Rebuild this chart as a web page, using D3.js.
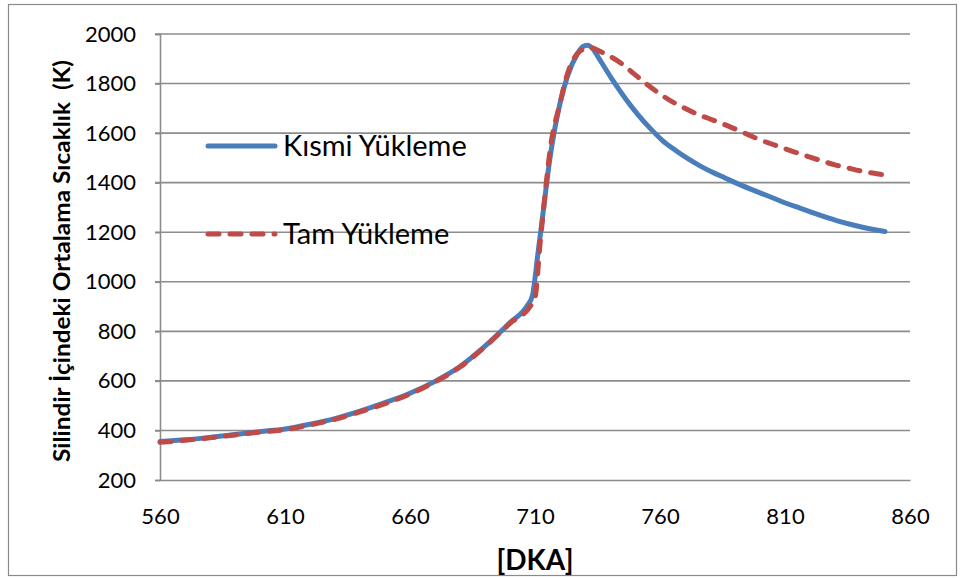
<!DOCTYPE html>
<html>
<head>
<meta charset="utf-8">
<script src="https://cdn.jsdelivr.net/npm/d3@7"></script>
<style>
  html, body { margin: 0; padding: 0; background: #fff; }
  svg { display: block; font-family: Lato, "Open Sans", sans-serif; }
</style>
</head>
<body>
<svg id="chart" width="961" height="579"></svg>
<script>
// Crank angle (DKA) samples and mean in-cylinder temperature (K)
const kismiDKA = [560, 570, 580, 590, 600, 610, 620, 630, 640, 650, 660, 670, 680, 690, 700, 707, 709, 711, 713, 716, 720, 723, 727, 729, 731, 733, 736, 741, 746, 751, 756, 761, 766, 771, 776, 781, 786, 791, 796, 801, 806, 811, 816, 821, 826, 831, 836, 841, 846, 850];
const kismiT   = [355, 362, 372, 384, 395, 406, 425, 448, 478, 512, 550, 598, 658, 740, 835, 905, 945, 1100, 1260, 1500, 1720, 1830, 1920, 1948, 1955, 1942, 1895, 1815, 1742, 1677, 1620, 1570, 1532, 1498, 1468, 1442, 1419, 1396, 1375, 1355, 1335, 1315, 1297, 1279, 1262, 1246, 1232, 1220, 1210, 1203];

const tamDKA = [560, 570, 580, 590, 600, 610, 620, 630, 640, 650, 660, 670, 680, 690, 700, 708, 710, 712, 714, 716, 720, 723, 727, 730, 732, 736, 740, 745, 750, 755, 760, 765, 770, 775, 780, 785, 790, 795, 800, 805, 810, 815, 820, 825, 830, 835, 840, 845, 849];
const tamT   = [352, 360, 370, 382, 393, 403, 422, 445, 475, 508, 547, 596, 656, 738, 832, 900, 935, 1150, 1350, 1530, 1720, 1840, 1922, 1941, 1945, 1930, 1910, 1878, 1836, 1795, 1758, 1726, 1700, 1676, 1657, 1638, 1617, 1595, 1573, 1555, 1537, 1520, 1503, 1487, 1472, 1460, 1448, 1439, 1432];

const xTicks = [560, 610, 660, 710, 760, 810, 860];
const yTicks = [200, 400, 600, 800, 1000, 1200, 1400, 1600, 1800, 2000];

const seriesNames = ["Kısmi Yükleme", "Tam Yükleme"];
const seriesColors = ["#4A7EBB", "#BE4B48"];

const yTitle = "Silindir İçindeki Ortalama Sıcaklık  (K)";
const xTitle = "[DKA]";

const svg = d3.select("#chart");
const W = 961, H = 579;
const m = { left: 160, right: 51, top: 34, bottom: 99 };

// outer chart frame
svg.append("rect")
  .attr("x", 8.5).attr("y", 4.5)
  .attr("width", 948).attr("height", 571)
  .attr("fill", "#fff").attr("stroke", "#8a8a8a").attr("stroke-width", 1.2);

const x = d3.scaleLinear().domain([560, 860]).range([m.left, W - m.right]);
const y = d3.scaleLinear().domain([200, 2000]).range([H - m.bottom, m.top]);

// horizontal gridlines
svg.append("g")
  .selectAll("line")
  .data(yTicks.filter(v => v !== 200))
  .join("line")
  .attr("x1", m.left - 5).attr("x2", W - m.right)
  .attr("y1", d => y(d)).attr("y2", d => y(d))
  .attr("stroke", "#8c8c8c").attr("stroke-width", 1.6);

// y axis
const yAxis = svg.append("g")
  .attr("transform", `translate(${m.left},0)`)
  .call(d3.axisLeft(y).tickValues(yTicks).tickSize(5).tickPadding(19).tickFormat(d3.format("d")));
yAxis.select(".domain").attr("stroke", "#8c8c8c").attr("stroke-width", 1.6);
yAxis.selectAll(".tick line").attr("stroke", "#8c8c8c").attr("stroke-width", 1.6);
yAxis.selectAll(".tick text")
  .attr("font-family", "Lato, 'Open Sans', sans-serif")
  .attr("font-size", 22).attr("fill", "#000");

// x axis
const xAxis = svg.append("g")
  .attr("transform", `translate(0,${H - m.bottom})`)
  .call(d3.axisBottom(x).tickValues(xTicks).tickSize(0).tickPadding(28).tickFormat(d3.format("d")));
xAxis.select(".domain").attr("stroke", "#8c8c8c").attr("stroke-width", 1.6);
xAxis.selectAll(".tick text")
  .attr("font-family", "Lato, 'Open Sans', sans-serif")
  .attr("font-size", 22).attr("fill", "#000");

// series lines
const line = d3.line()
  .x(d => x(d[0])).y(d => y(d[1]))
  .curve(d3.curveMonotoneX);

const kismi = kismiDKA.map((d, i) => [d, kismiT[i]]);
const tam = tamDKA.map((d, i) => [d, tamT[i]]);

svg.append("path")
  .datum(kismi)
  .attr("d", line)
  .attr("fill", "none")
  .attr("stroke", seriesColors[0])
  .attr("stroke-width", 5)
  .attr("stroke-linecap", "round")
  .attr("stroke-linejoin", "round");

svg.append("path")
  .datum(tam)
  .attr("d", line)
  .attr("fill", "none")
  .attr("stroke", seriesColors[1])
  .attr("stroke-width", 5)
  .attr("stroke-dasharray", "11,11")
  .attr("stroke-linecap", "round")
  .attr("stroke-linejoin", "round");

// legend
const legend = svg.append("g");
const legendRows = [
  { name: seriesNames[0], color: seriesColors[0], dash: null, y: 146 },
  { name: seriesNames[1], color: seriesColors[1], dash: "11,11", y: 234 }
];
legendRows.forEach(r => {
  legend.append("line")
    .attr("x1", 208).attr("x2", 275)
    .attr("y1", r.y).attr("y2", r.y)
    .attr("stroke", r.color).attr("stroke-width", 5)
    .attr("stroke-linecap", "round")
    .attr("stroke-dasharray", r.dash);
  legend.append("text")
    .attr("x", 283).attr("y", r.y)
    .attr("dy", "0.35em")
    .attr("font-size", 29)
    .attr("fill", "#000")
    .text(r.name);
});

// axis titles
svg.append("text")
  .attr("transform", `translate(62,261) rotate(-90)`)
  .attr("text-anchor", "middle")
  .attr("dy", "0.35em")
  .attr("font-size", 22)
  .attr("font-weight", "bold")
  .attr("fill", "#000")
  .style("white-space", "pre")
  .attr("textLength", 402)
  .attr("lengthAdjust", "spacingAndGlyphs")
  .text(yTitle);

svg.append("text")
  .attr("x", 535).attr("y", 560)
  .attr("dy", "0.35em")
  .attr("text-anchor", "middle")
  .attr("font-size", 28)
  .attr("font-weight", "bold")
  .attr("fill", "#000")
  .text(xTitle);
</script>
</body>
</html>
